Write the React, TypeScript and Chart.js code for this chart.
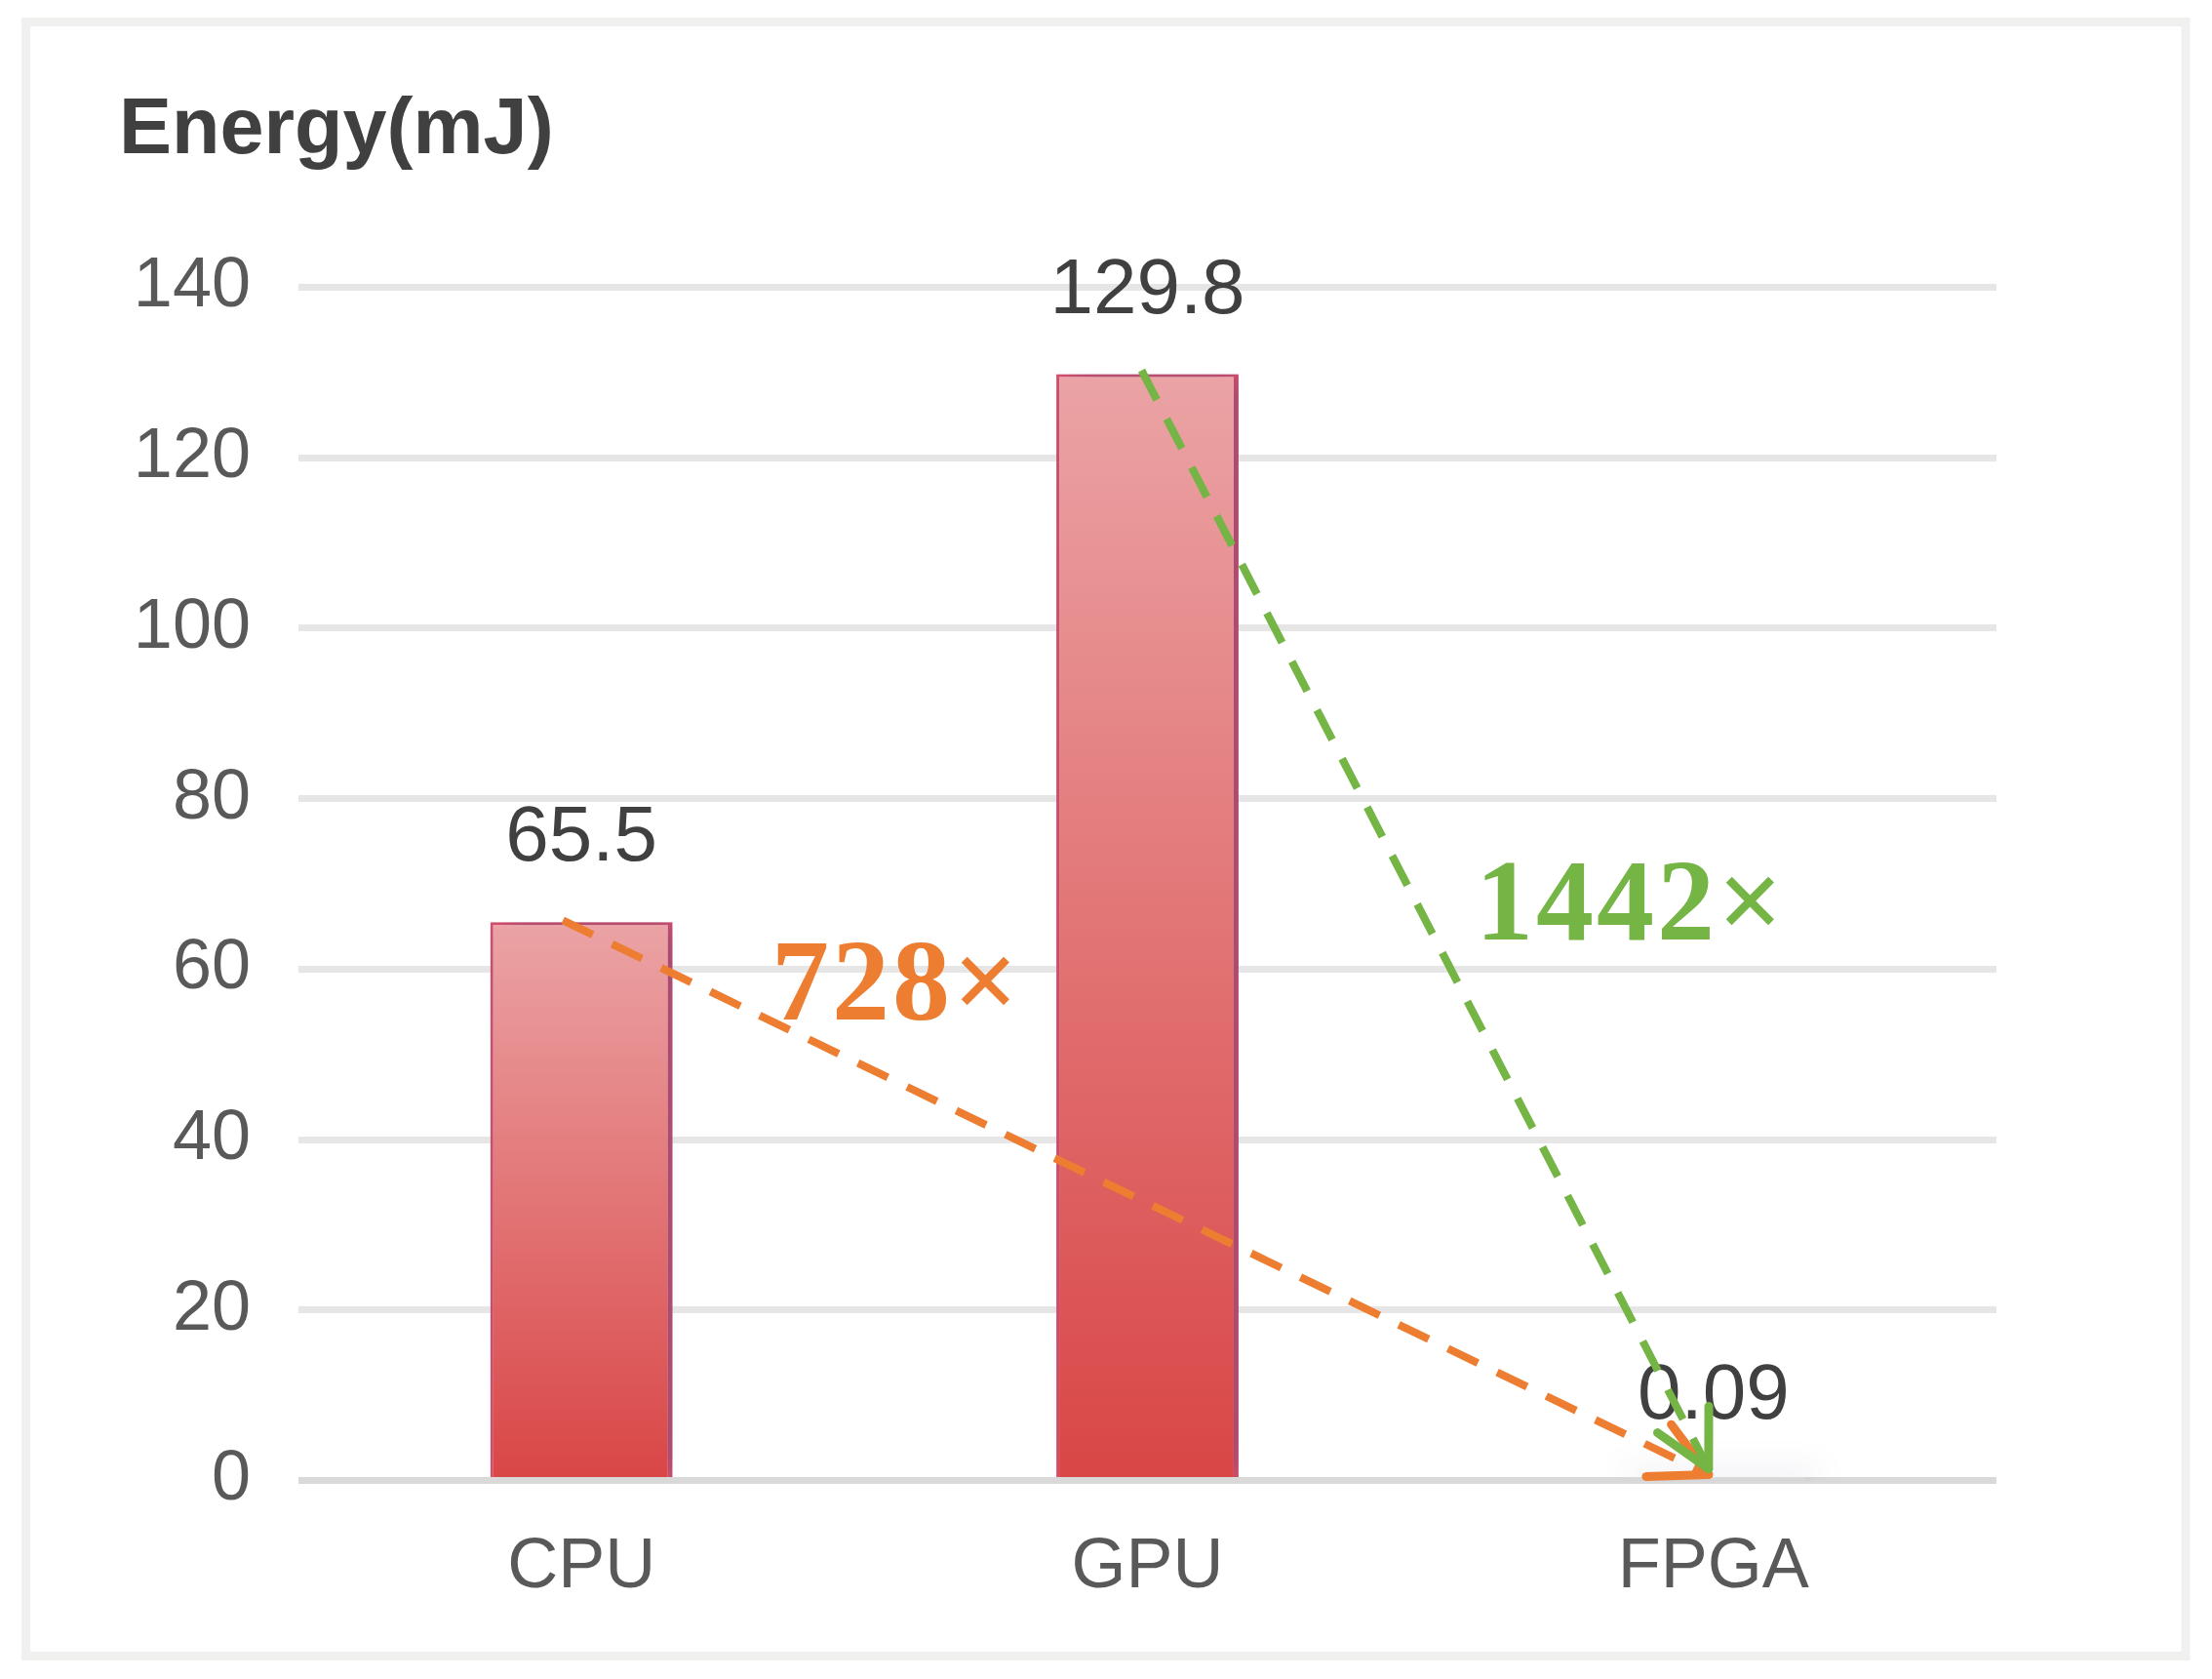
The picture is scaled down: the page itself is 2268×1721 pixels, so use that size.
import React, { useEffect, useRef } from 'react';
import { Chart, registerables } from 'chart.js';

Chart.register(...registerables);

const categories = ['CPU', 'GPU', 'FPGA'];
const energyValues = [65.5, 129.8, 0.09];
const valueLabels = ['65.5', '129.8', '0.09'];
const yMin = 0;
const yMax = 140;
const yStep = 20;
const axisTitle = 'Energy(mJ)';
const ratioLabels = ['728×', '1442×'];
const arrowFrom = [0, 1];
const arrowTo = [2, 2];

const SANS = '"Liberation Sans", Arial, sans-serif';
const SERIF = '"Liberation Serif", "Times New Roman", serif';

function drawArrow(ctx: CanvasRenderingContext2D, x1: number, y1: number, x2: number, y2: number, color: string) {
  ctx.save();
  ctx.strokeStyle = color;
  ctx.lineWidth = 8;
  ctx.setLineDash([34, 22]);
  ctx.lineCap = 'butt';
  ctx.beginPath();
  ctx.moveTo(x1, y1);
  ctx.lineTo(x2, y2);
  ctx.stroke();
  ctx.setLineDash([]);
  ctx.lineWidth = 9;
  ctx.lineCap = 'round';
  const ang = Math.atan2(y2 - y1, x2 - x1);
  for (const s of [-1, 1]) {
    const a = ang + Math.PI + s * 0.48;
    ctx.beginPath();
    ctx.moveTo(x2, y2);
    ctx.lineTo(x2 + 64 * Math.cos(a), y2 + 64 * Math.sin(a));
    ctx.stroke();
  }
  ctx.restore();
}

const framePlugin = {
  id: 'frame',
  beforeDraw(chart: any) {
    const ctx = chart.ctx as CanvasRenderingContext2D;
    ctx.save();
    ctx.fillStyle = '#ffffff';
    ctx.fillRect(0, 0, chart.width, chart.height);
    ctx.strokeStyle = '#f0f0ef';
    ctx.lineWidth = 9;
    ctx.strokeRect(26.5, 22.5, 2241 - 26.5, 1697.5 - 22.5);
    ctx.restore();
  },
};

const shadowPlugin = {
  id: 'barShadow',
  beforeDatasetDraw(chart: any) {
    const ctx = chart.ctx as CanvasRenderingContext2D;
    ctx.save();
    ctx.shadowColor = 'rgba(70, 70, 130, 0.5)';
    ctx.shadowBlur = 30;
    ctx.shadowOffsetX = 9;
    ctx.shadowOffsetY = -2;
  },
  afterDatasetDraw(chart: any) {
    chart.ctx.restore();
  },
};

const overlayPlugin = {
  id: 'overlay',
  afterDatasetsDraw(chart: any) {
    const ctx = chart.ctx as CanvasRenderingContext2D;
    const meta = chart.getDatasetMeta(0);
    const area = chart.chartArea;
    const ys = chart.scales.y;
    ctx.save();
    ctx.fillStyle = '#404040';
    ctx.font = `bold 81px ${SANS}`;
    ctx.textAlign = 'left';
    ctx.textBaseline = 'alphabetic';
    ctx.fillText(axisTitle, area.left - 184, 157);
    ctx.font = `80px ${SANS}`;
    ctx.textAlign = 'center';
    meta.data.forEach((bar: any, i: number) => {
      ctx.fillText(valueLabels[i], bar.x, bar.y - 63);
    });
    ctx.textAlign = 'left';
    ctx.font = `bold 118px ${SERIF}`;
    (ctx as any).letterSpacing = '3px';
    ctx.fillStyle = '#ed7d31';
    ctx.fillText(ratioLabels[0], area.left + 485, area.top + 750.5);
    ctx.fillStyle = '#74b545';
    ctx.fillText(ratioLabels[1], area.left + 1207, area.top + 668.5);
    (ctx as any).letterSpacing = '0px';
    ctx.restore();
    const colors = ['#ed7d31', '#74b545'];
    const startOffsets = [[-19, -2], [-6, -4]];
    const endOffsets = [[-5, -6], [-5, -12]];
    arrowFrom.forEach((fi, k) => {
      const a = meta.data[fi];
      const b = meta.data[arrowTo[k]];
      drawArrow(
        ctx,
        a.x + startOffsets[k][0],
        a.y + startOffsets[k][1],
        b.x + endOffsets[k][0],
        ys.getPixelForValue(0) + endOffsets[k][1],
        colors[k]
      );
    });
  },
};

export default function App() {
  const ref = useRef<HTMLCanvasElement | null>(null);
  useEffect(() => {
    if (!ref.current) return;
    const chart = new Chart(ref.current, {
      type: 'bar',
      data: {
        labels: categories,
        datasets: [
          {
            data: energyValues,
            backgroundColor: (c: any) => {
              const chart = c.chart;
              if (!chart.chartArea || !chart.scales.y) return '#e07a7c';
              const ys = chart.scales.y;
              const v = c.raw ?? 0;
              const top = ys.getPixelForValue(v);
              const bottom = ys.getPixelForValue(0);
              if (!isFinite(top) || !isFinite(bottom) || bottom - top < 2) return '#d9d9d9';
              const g = chart.ctx.createLinearGradient(0, top, 0, bottom);
              g.addColorStop(0, '#eba3a5');
              g.addColorStop(1, '#d94646');
              return g;
            },
            borderColor: '#e24d68',
            borderWidth: (c: any) => ((c.raw ?? 0) < 1 ? 0 : { top: 3, left: 3, right: 5, bottom: 0 }),
            borderSkipped: 'bottom',
            barPercentage: 0.322,
            categoryPercentage: 1,
          },
        ],
      },
      options: {
        responsive: false,
        animation: false,
        devicePixelRatio: 1,
        layout: { padding: { top: 294.5, right: 221, bottom: 0, left: 0 } },
        plugins: {
          legend: { display: false },
          tooltip: { enabled: false },
          title: { display: false },
        },
        scales: {
          x: {
            grid: { display: false, drawTicks: false },
            border: { display: false },
            ticks: { font: { family: SANS, size: 72 }, color: '#595959', padding: 46 },
            afterFit: (s: any) => {
              s.height = 203.5;
            },
          },
          y: {
            min: yMin,
            max: yMax,
            ticks: { stepSize: yStep, font: { family: SANS, size: 72 }, color: '#595959', padding: 49 },
            grid: {
              drawTicks: false,
              lineWidth: 7,
              color: (c: any) => (c.tick && c.tick.value === 0 ? '#d9d9d9' : '#e6e6e6'),
            },
            border: { display: false },
            afterFit: (s: any) => {
              s.width = 306;
            },
          },
        },
      },
      plugins: [framePlugin, shadowPlugin, overlayPlugin],
    });
    return () => chart.destroy();
  }, []);
  return (
    <div style={{ position: 'absolute', left: 0, top: 0, width: 2268, height: 1721 }}>
      <canvas ref={ref} width={2268} height={1721} style={{ display: 'block', width: 2268, height: 1721 }} />
    </div>
  );
}
